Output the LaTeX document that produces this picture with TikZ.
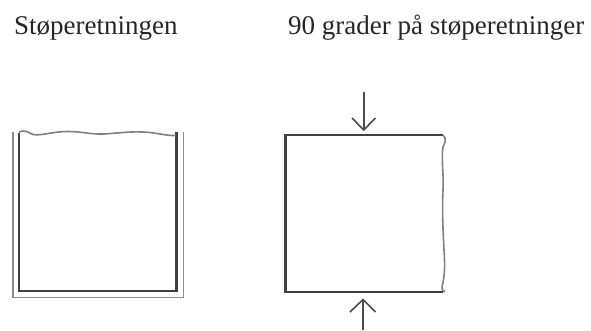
\documentclass[tikz,border=0pt]{standalone}
\usepackage{fontspec}
\setmainfont{Liberation Serif}
\begin{document}
\begin{tikzpicture}[x=1pt,y=-1pt,
  lbl/.style={inner sep=0pt,anchor=base west,text=black!85,font=\fontsize{27}{31}\selectfont},
  mold/.style={draw=black!45,line width=1.8pt},
  wall/.style={draw=black!75,line width=2.4pt},
  wavy/.style={draw=black!50,line width=1.6pt},
  arr/.style={draw=black!70,line width=1.6pt}]
\useasboundingbox (0,0) rectangle (591,330);
\node[lbl] (a) at (14,34.5) {Støperetningen};
\node[lbl] (b) at (288,34.5) {90 grader på støperetninger};
% left figure
\draw[mold] (13,132) -- (13,297.5) -- (183.5,297.5) -- (183.5,132);
\draw[wall] (19,133) -- (19,291) -- (176.5,291) -- (176.5,132);
\draw[wavy] (19,132) .. controls (24,129.5) and (28,132) .. (33,134.5)
  .. controls (42,136) and (52,131.5) .. (68,131.5)
  .. controls (82,131.5) and (90,134.5) .. (104,134)
  .. controls (118,133) and (130,131.5) .. (142,132)
  .. controls (155,132) and (165,136) .. (176,135.5);
% right figure
\draw[wall] (443,135) -- (285.5,135) -- (285.5,292) -- (443,292);
\draw[wavy] (443,135) .. controls (447,139) and (445,143) .. (443,147)
  .. controls (441,160) and (444,175) .. (443,190)
  .. controls (442,210) and (443,230) .. (444,250)
  .. controls (445,265) and (445,275) .. (442,287)
  .. controls (441,289) and (443,291) .. (445,292);
\draw[arr] (363.7,92) -- (363.7,130);
\draw[arr,line join=round] (352,118) -- (363.7,130) -- (375.5,118);
\draw[arr] (363,300) -- (363,330);
\draw[arr,line join=round] (350,312) -- (363,299.5) -- (375.5,312);
\end{tikzpicture}
\end{document}
